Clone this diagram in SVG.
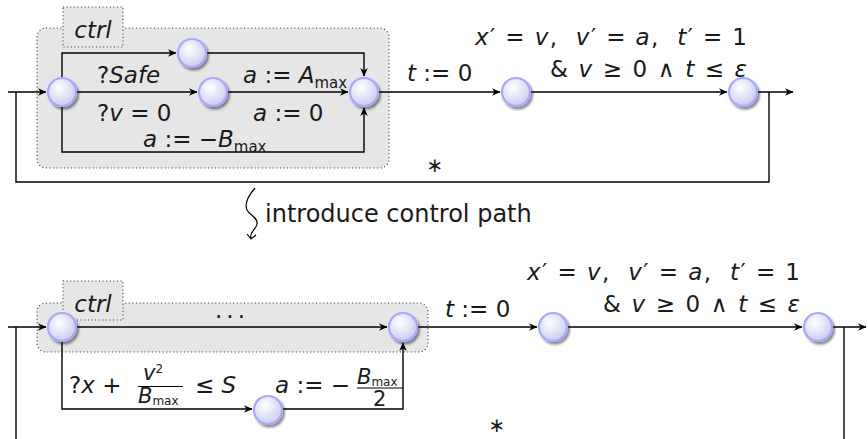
<svg xmlns="http://www.w3.org/2000/svg" width="868" height="439" viewBox="0 0 868 439">
<defs>
<radialGradient id="ng" cx="0.4" cy="0.35" r="0.65">
<stop offset="0" stop-color="#ffffff"/>
<stop offset="1" stop-color="#cdcdf2"/>
</radialGradient>
<filter id="sh" x="-40%" y="-40%" width="190%" height="190%">
<feDropShadow dx="2" dy="2.5" stdDeviation="1.3" flood-color="#000" flood-opacity="0.45"/>
</filter>
<marker id="ar" markerWidth="10" markerHeight="10" viewBox="-9 -5 10 10" refX="0" refY="0" orient="auto" markerUnits="userSpaceOnUse">
<path d="M0.5,0 L-8,-3.8 L-5.5,0 L-8,3.8 Z" fill="#000"/>
</marker>
</defs>
<style>
.ln{fill:none;stroke:#000;stroke-width:1.4}
.ar{marker-end:url(#ar)}
.nd{fill:url(#ng);stroke:#a8a8ff;stroke-width:2.2;filter:url(#sh)}
.box{fill:#e6e6e6;stroke:#333;stroke-width:1.1;stroke-dasharray:1 2.6}
.t{font-family:"DejaVu Sans",sans-serif;font-size:23px;fill:#1a1a1a}
.i{font-style:italic}
.s{font-size:15px}
.f{font-size:21px}
.ff{font-size:12px}
.st{font-size:20px}
</style>

<!-- control boxes -->
<g id="ctrl-top">
<rect class="box" x="37" y="28" width="352" height="140" rx="9"/>
<rect class="box" x="63" y="7" width="60" height="40"/>
<text class="t i" x="93" y="38" text-anchor="middle">ctrl</text>
</g>
<g id="ctrl-bottom">
<rect class="box" x="37" y="303" width="391" height="49" rx="9"/>
<rect class="box" x="63" y="281" width="60" height="39"/>
<text class="t i" x="93" y="312" text-anchor="middle">ctrl</text>
</g>

<!-- connectors -->
<g id="connectors">
<!-- top -->
<path class="ln ar" d="M8,92 H46"/>
<path class="ln" d="M16,92 V182 H769 V92"/>
<path class="ln ar" d="M62,77 V53 H176"/>
<path class="ln ar" d="M207,53 H364 V76"/>
<path class="ln ar" d="M77,92 H197"/>
<path class="ln ar" d="M228,92 H348"/>
<path class="ln ar" d="M62,107 V152 H364 V108"/>
<path class="ln ar" d="M379,92 H500"/>
<path class="ln ar" d="M531,92 H727"/>
<path class="ln ar" d="M758,92 H793"/>
<!-- squiggle -->
<path class="ln" style="stroke-width:1.2" d="M255,188 C248,196 244,203 247,210 C250,216 258,217 257,224 C256,230 249,232 251,238 M247,234 L251,239 L256,235"/>
<!-- bottom -->
<path class="ln ar" d="M8,327 H46"/>
<path class="ln" d="M16,327 V440"/>
<path class="ln ar" d="M77,327 H387"/>
<path class="ln ar" d="M62,342 V409 H252"/>
<path class="ln ar" d="M283,409 H403 V343"/>
<path class="ln ar" d="M418,327 H537"/>
<path class="ln ar" d="M568,327 H802"/>
<path class="ln" d="M844,327 V440"/>
<path class="ln ar" d="M833,327 H866"/>
</g>

<!-- nodes top -->
<g id="n-top-start"><circle class="nd" cx="62" cy="92" r="14"/></g>
<g id="n-top-upper"><circle class="nd" cx="192" cy="53" r="14"/></g>
<g id="n-top-mid"><circle class="nd" cx="213" cy="92" r="14"/></g>
<g id="n-top-join"><circle class="nd" cx="364" cy="92" r="14"/></g>
<g id="n-top-ode"><circle class="nd" cx="516" cy="92" r="14"/></g>
<g id="n-top-end"><circle class="nd" cx="743" cy="92" r="14"/></g>
<!-- nodes bottom -->
<g id="n-bot-start"><circle class="nd" cx="62" cy="327" r="14"/></g>
<g id="n-bot-join"><circle class="nd" cx="403" cy="327" r="14"/></g>
<g id="n-bot-lower"><circle class="nd" cx="268" cy="410" r="14"/></g>
<g id="n-bot-ode"><circle class="nd" cx="553" cy="327" r="14"/></g>
<g id="n-bot-end"><circle class="nd" cx="818" cy="327" r="14"/></g>

<!-- labels -->
<g id="labels">
<text class="t" x="97" y="83">?<tspan class="i">Safe</tspan></text>
<text class="t" x="243" y="83"><tspan class="i">a</tspan> := <tspan class="i">A</tspan><tspan class="s" dy="5">max</tspan></text>
<text class="t" x="97" y="121">?<tspan class="i">v</tspan> = 0</text>
<text class="t" x="253" y="121"><tspan class="i">a</tspan> := 0</text>
<text class="t" x="143" y="147"><tspan class="i">a</tspan> := −<tspan class="i">B</tspan><tspan class="s" dy="5">max</tspan></text>
<text class="t" x="407" y="81"><tspan class="i">t</tspan> := 0</text>
<text class="t" x="475" y="45" textLength="272" lengthAdjust="spacing" xml:space="preserve"><tspan class="i">x</tspan>′ = <tspan class="i">v</tspan>,  <tspan class="i">v</tspan>′ = <tspan class="i">a</tspan>,  <tspan class="i">t</tspan>′ = 1</text>
<text class="t" x="550" y="77" textLength="197" lengthAdjust="spacing">&amp; <tspan class="i">v</tspan> ≥ 0 ∧ <tspan class="i">t</tspan> ≤ <tspan class="i">ε</tspan></text>
<text class="t st" x="435" y="172" text-anchor="middle">∗</text>

<text class="t" x="265" y="222" style="font-size:24px">introduce control path</text>

<text class="t" x="215" y="318" textLength="30" lengthAdjust="spacing">. . .</text>
<text class="t" x="445" y="317"><tspan class="i">t</tspan> := 0</text>
<text class="t" x="527" y="280" textLength="273" lengthAdjust="spacing" xml:space="preserve"><tspan class="i">x</tspan>′ = <tspan class="i">v</tspan>,  <tspan class="i">v</tspan>′ = <tspan class="i">a</tspan>,  <tspan class="i">t</tspan>′ = 1</text>
<text class="t" x="603" y="312" textLength="197" lengthAdjust="spacing">&amp; <tspan class="i">v</tspan> ≥ 0 ∧ <tspan class="i">t</tspan> ≤ <tspan class="i">ε</tspan></text>
<text class="t st" x="497" y="432" text-anchor="middle">∗</text>

<!-- ?x + v^2/Bmax <= S -->
<text class="t" x="69" y="393">?<tspan class="i">x</tspan> +</text>
<text class="t f i" x="143" y="380">v<tspan class="ff" style="font-style:normal" dy="-7">2</tspan></text>
<path class="ln" style="stroke-width:1.1" d="M138,386.5 H183"/>
<text class="t f i" x="138" y="403">B<tspan class="ff" style="font-style:normal" dy="2">max</tspan></text>
<text class="t" x="195" y="393">≤ <tspan class="i">S</tspan></text>
<!-- a := -Bmax/2 -->
<text class="t" x="275" y="393"><tspan class="i">a</tspan> := −</text>
<text class="t f i" x="357" y="384">B<tspan class="ff" style="font-style:normal" dy="2">max</tspan></text>
<path class="ln" style="stroke-width:1.1" d="M357,388 H403"/>
<text class="t f" x="373" y="406">2</text>
</g>
</svg>
